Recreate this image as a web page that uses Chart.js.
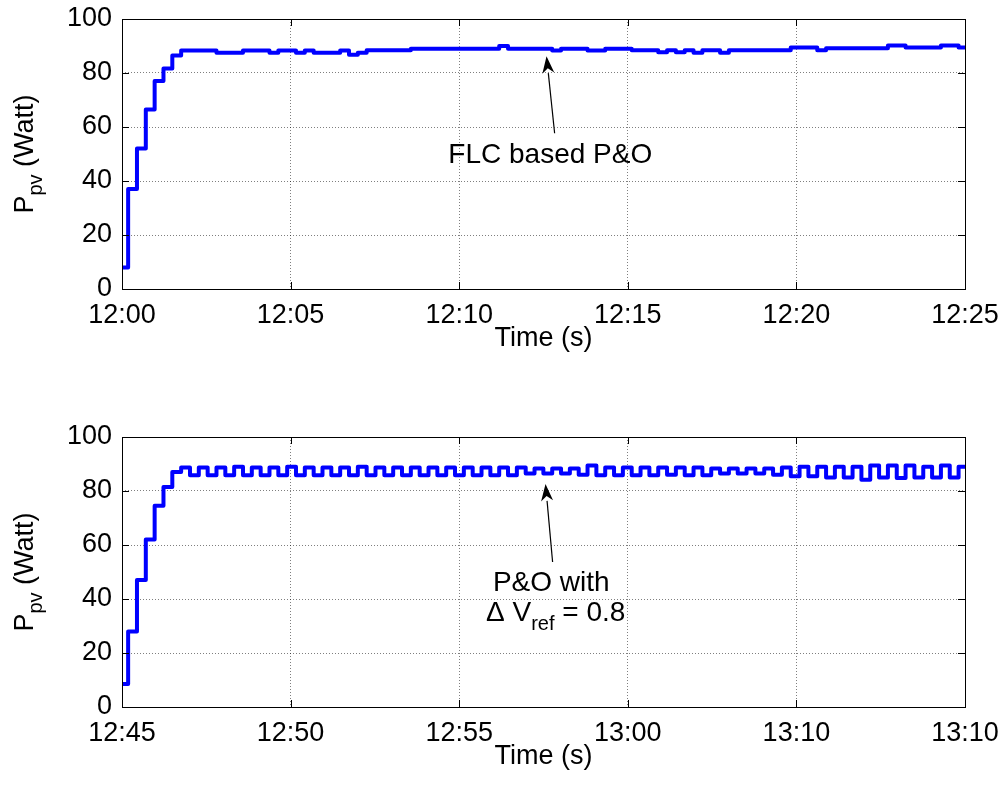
<!DOCTYPE html>
<html>
<head>
<meta charset="utf-8">
<script src="https://cdn.jsdelivr.net/npm/chart.js@4.4.1/dist/chart.umd.min.js"></script>
<style>
  html, body { margin: 0; padding: 0; background: #fff; }
  #wrap { position: relative; width: 1006px; height: 787px; overflow: hidden; }
  .panel { position: absolute; left: 0; width: 1006px; height: 393px; }
</style>
</head>
<body>
<div id="wrap">
  <div class="panel" style="top:0"><canvas id="topChart" width="1006" height="393"></canvas></div>
  <div class="panel" style="top:418px"><canvas id="bottomChart" width="1006" height="393"></canvas></div>
</div>
<script>
// MPPT update period, in minutes on the x axis
const sampleStep = 0.262;
const sampleStart = -0.08;

const xTickMinutes = [0, 5, 10, 15, 20, 25];
const yTicks = [0, 20, 40, 60, 80, 100];
const topTimeLabels = ["12:00", "12:05", "12:10", "12:15", "12:20", "12:25"];
const bottomTimeLabels = ["12:45", "12:50", "12:55", "13:00", "13:10", "13:10"];

// P_pv (W), one value per update, FLC based P&O
const flcPower = [
  8, 37, 52, 66.5, 77, 81.7, 86.5, 88.3, 88.3, 88.3,
  88.3, 87.5, 87.5, 87.5, 88.3, 88.3, 88.3, 87.5, 88.3, 88.3,
  87.5, 88.3, 87.5, 87.5, 87.5, 88.3, 86.8, 87.5, 88.4, 88.4,
  88.4, 88.4, 88.4, 89, 89, 89, 89, 89, 89, 89,
  89, 89, 89, 90, 89, 89, 89, 89, 89, 88.3,
  89, 89, 89, 88.3, 88.3, 89, 89, 89, 88.4, 88.4,
  88.4, 87.7, 88.4, 87.7, 88.4, 87.5, 88.4, 88.4, 87.5, 88.4,
  88.4, 88.4, 88.4, 88.4, 88.4, 88.4, 89.4, 89.4, 89.4, 88.4,
  89.2, 89.2, 89.2, 89.2, 89.2, 89.2, 89.2, 90.2, 90.2, 89.4,
  89.4, 89.4, 89.4, 90.2, 90.2, 89.4,
];

// P_pv (W), classic P&O with dVref = 0.8
const poPower = [
  8.5, 28, 47, 62, 74.5, 81.5, 87, 88.7,
  85.8, 88.7, 85.8, 88.7, 85.8, 89.0, 85.8, 88.7, 85.8, 88.7,
  85.8, 89.0, 85.8, 88.7, 85.8, 88.7, 85.8, 88.7, 85.8, 89.0,
  85.8, 88.7, 85.8, 88.7, 85.8, 88.7, 85.8, 88.7, 85.8, 88.7,
  85.8, 88.7, 85.8, 88.7, 85.8, 88.7, 85.8, 88.7, 86.5, 88.3,
  86.5, 88.3, 86.5, 88.3, 86.0, 89.4, 85.8, 88.7, 85.8, 88.7,
  85.8, 88.7, 85.8, 88.7, 86.0, 88.7, 85.8, 88.7, 85.8, 88.3,
  86.5, 88.3, 86.5, 88.3, 86.5, 88.3, 86.0, 88.7, 85.5, 89.0,
  85.5, 89.0, 85.0, 89.0, 85.0, 89.0, 84.2, 89.4, 85.0, 89.4,
  84.8, 89.4, 85.0, 89.0, 85.0, 89.4, 85.0, 89.0,
];

const fontFamily = '"Liberation Sans", Arial, sans-serif';
const mainSize = 27;
const noteSize = 28;
const subSize = 20;

function drawParts(ctx, parts, x, y, align, size) {
  const widths = parts.map(([t, sub]) => {
    ctx.font = (sub ? subSize : size) + "px " + fontFamily;
    return ctx.measureText(t).width;
  });
  const total = widths.reduce((a, b) => a + b, 0);
  let cx = align === "center" ? x - total / 2 : x;
  parts.forEach(([t, sub], i) => {
    ctx.font = (sub ? subSize : size) + "px " + fontFamily;
    ctx.fillText(t, cx, sub ? y + 9 : y);
    cx += widths[i];
  });
}

const matlabFrame = {
  id: "matlabFrame",
  afterDraw(chart, args, opts) {
    const ctx = chart.ctx;
    const { left, right, top, bottom } = chart.chartArea;
    const xs = chart.scales.x;
    const ys = chart.scales.y;
    ctx.save();
    ctx.strokeStyle = "#000";
    ctx.lineWidth = 1;
    ctx.strokeRect(Math.round(left) + 0.5, Math.round(top) + 0.5, Math.round(right - left), Math.round(bottom - top));

    // inward tick marks on all four sides
    ctx.beginPath();
    xTickMinutes.forEach((v) => {
      const px = Math.round(xs.getPixelForValue(v)) + 0.5;
      ctx.moveTo(px, bottom); ctx.lineTo(px, bottom - 7);
      ctx.moveTo(px, top); ctx.lineTo(px, top + 7);
    });
    yTicks.forEach((v) => {
      const py = Math.round(ys.getPixelForValue(v)) + 0.5;
      ctx.moveTo(left, py); ctx.lineTo(left + 7, py);
      ctx.moveTo(right, py); ctx.lineTo(right - 7, py);
    });
    ctx.stroke();

    ctx.fillStyle = "#000";
    ctx.textBaseline = "alphabetic";

    // x axis title
    ctx.font = mainSize + "px " + fontFamily;
    ctx.textAlign = "center";
    ctx.fillText("Time (s)", (left + right) / 2, bottom + 57);

    // y axis title with subscript
    ctx.save();
    ctx.translate(33, (top + bottom) / 2);
    ctx.rotate(-Math.PI / 2);
    ctx.textAlign = "left";
    drawParts(ctx, [["P", false], ["pv", true], [" (Watt)", false]], 0, 0, "center", mainSize);
    ctx.restore();

    // arrow annotation
    const note = opts.note;
    if (note) {
      const tx = xs.getPixelForValue(note.tip[0]);
      const ty = ys.getPixelForValue(note.tip[1]);
      const bx = xs.getPixelForValue(note.tail[0]);
      const by = ys.getPixelForValue(note.tail[1]);
      const ang = Math.atan2(by - ty, bx - tx);
      const hl = 17, hw = 6;
      const hx = tx + Math.cos(ang) * hl;
      const hy = ty + Math.sin(ang) * hl;
      ctx.lineWidth = 1.2;
      ctx.beginPath();
      ctx.moveTo(hx, hy); ctx.lineTo(bx, by);
      ctx.stroke();
      ctx.beginPath();
      ctx.moveTo(tx, ty);
      ctx.lineTo(hx - Math.sin(ang) * hw, hy + Math.cos(ang) * hw);
      ctx.lineTo(tx + Math.cos(ang) * (hl - 5), ty + Math.sin(ang) * (hl - 5));
      ctx.lineTo(hx + Math.sin(ang) * hw, hy - Math.cos(ang) * hw);
      ctx.closePath();
      ctx.fill();
      ctx.textAlign = "left";
      note.lines.forEach((ln) => {
        drawParts(ctx, ln.parts, xs.getPixelForValue(ln.at[0]), ys.getPixelForValue(ln.at[1]), "center", noteSize);
      });
    }
    ctx.restore();
  },
};

function makePanel(id, values, timeLabels, note) {
  const points = values.map((v, i) => ({ x: sampleStart + i * sampleStep, y: v }));
  points.push({ x: sampleStart + values.length * sampleStep, y: values[values.length - 1] });
  const gridStyle = { color: "rgba(0,0,0,0.5)", lineWidth: 1, drawTicks: false };
  const borderStyle = { display: false, dash: [1, 2] };
  const tickFont = { family: fontFamily, size: mainSize };
  return new Chart(document.getElementById(id), {
    type: "line",
    data: {
      datasets: [{
        data: points,
        borderColor: "#0000ff",
        borderWidth: 4,
        borderJoinStyle: "round",
        pointRadius: 0,
        stepped: "before",
        fill: false,
      }],
    },
    options: {
      responsive: false,
      animation: false,
      devicePixelRatio: 1,
      layout: { padding: { top: 19, right: 41, left: 0, bottom: 0 } },
      plugins: {
        legend: { display: false },
        tooltip: { enabled: false },
        matlabFrame: { note },
      },
      scales: {
        x: {
          type: "linear",
          min: 0,
          max: 25,
          afterFit: (s) => { s.height = 104; s.paddingLeft = 0; s.paddingRight = 0; },
          afterBuildTicks: (s) => { s.ticks = xTickMinutes.map((v) => ({ value: v })); },
          ticks: {
            maxRotation: 0,
            autoSkip: false,
            padding: 10,
            color: "#000",
            font: tickFont,
            callback: (v, i) => timeLabels[i],
          },
          grid: gridStyle,
          border: borderStyle,
        },
        y: {
          min: 0,
          max: 100,
          afterFit: (s) => { s.width = 122; s.paddingTop = 0; s.paddingBottom = 0; },
          afterBuildTicks: (s) => { s.ticks = yTicks.map((v) => ({ value: v })); },
          ticks: { padding: 10, color: "#000", font: tickFont },
          grid: gridStyle,
          border: borderStyle,
        },
      },
    },
    plugins: [matlabFrame],
  });
}

makePanel("topChart", flcPower, topTimeLabels, {
  tip: [12.59, 86.2],
  tail: [12.83, 57.7],
  lines: [{ at: [12.7, 46.7], parts: [["FLC based P&O", false]] }],
});

makePanel("bottomChart", poPower, bottomTimeLabels, {
  tip: [12.56, 82.6],
  tail: [12.77, 53.7],
  lines: [
    { at: [12.73, 42.9], parts: [["P&O with", false]] },
    { at: [12.86, 31.7], parts: [["\u0394 V", false], ["ref", true], [" = 0.8", false]] },
  ],
});
</script>
</body>
</html>
